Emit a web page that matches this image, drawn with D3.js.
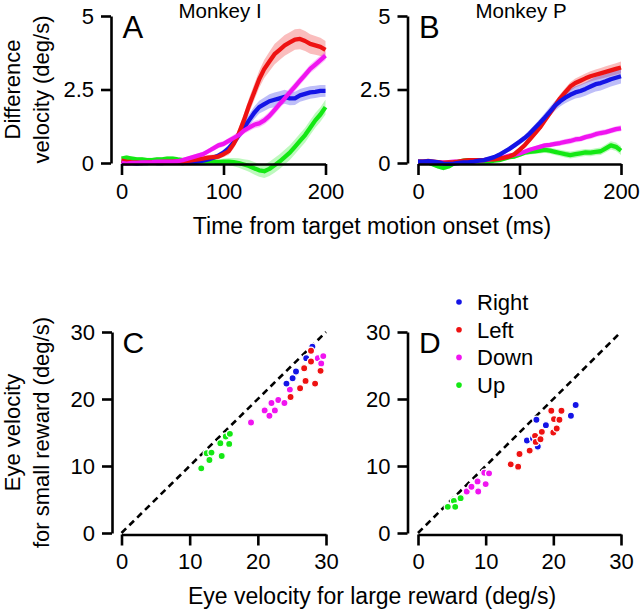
<!DOCTYPE html>
<html><head><meta charset="utf-8">
<script src="https://cdn.jsdelivr.net/npm/d3@7"></script>
<style>body{margin:0;background:#fff}svg{display:block}text{font-family:"Liberation Sans",Arial,Helvetica,sans-serif;fill:#000}</style>
</head><body>
<script>
// ---------- DATA ----------
const times = d3.range(0, 201, 5); // ms
const semTimes = [0,25,50,75,100,125,150,175,200];
const directions = ["Right","Left","Down","Up"];
const colors = {Right:"#1414e6", Left:"#ee1212", Down:"#f014f0", Up:"#14e814"};

// Panel A (Monkey I)
const aRight = [0.02,0.0,0.0,-0.02,0.0,0.0,0.02,0.0,0.0,0.02,0.03,0.02,0.0,0.02,0.03,0.05,0.08,0.12,0.18,0.25,0.35,0.5,0.7,0.95,1.2,1.45,1.7,1.9,2.0,2.1,2.15,2.2,2.25,2.2,2.2,2.3,2.35,2.4,2.42,2.45,2.45];
const aLeft  = [0.08,0.05,0.03,0.02,0.0,0.02,0.03,0.02,0.04,0.05,0.05,0.06,0.05,0.07,0.1,0.12,0.15,0.18,0.2,0.22,0.3,0.4,0.65,1.0,1.45,1.95,2.4,2.85,3.2,3.45,3.7,3.85,4.0,4.1,4.2,4.22,4.15,4.05,4.0,3.95,3.85];
const aDown  = [0.0,-0.02,0.0,0.0,0.02,0.02,0.03,0.05,0.05,0.05,0.05,0.06,0.1,0.15,0.2,0.25,0.3,0.4,0.5,0.6,0.65,0.75,0.85,0.95,1.1,1.2,1.3,1.35,1.45,1.6,1.8,2.0,2.2,2.4,2.6,2.8,3.0,3.2,3.35,3.5,3.65];
const aUp    = [0.15,0.18,0.15,0.12,0.12,0.1,0.1,0.12,0.12,0.15,0.15,0.12,0.1,0.08,0.05,0.05,0.05,0.05,0.05,0.03,0.05,0.05,0.03,0.0,-0.05,-0.1,-0.18,-0.25,-0.28,-0.2,-0.08,0.05,0.2,0.35,0.55,0.75,0.95,1.2,1.45,1.65,1.9];
const aRightSem = [0.06,0.06,0.06,0.06,0.1,0.2,0.25,0.22,0.2];
const aLeftSem  = [0.08,0.08,0.08,0.08,0.1,0.25,0.35,0.35,0.3];
const aDownSem  = [0.06,0.06,0.06,0.08,0.1,0.12,0.15,0.15,0.15];
const aUpSem    = [0.08,0.08,0.08,0.08,0.1,0.2,0.25,0.25,0.25];

// Panel B (Monkey P)
const bRight = [0.05,0.05,0.06,0.05,0.02,-0.02,-0.03,-0.02,0.0,0.02,0.03,0.05,0.08,0.1,0.15,0.2,0.28,0.38,0.48,0.6,0.72,0.85,1.0,1.18,1.36,1.55,1.75,1.95,2.1,2.22,2.32,2.4,2.45,2.52,2.6,2.68,2.72,2.78,2.85,2.9,2.95];
const bLeft  = [0.05,0.05,0.07,0.05,0.03,0.0,0.02,0.03,0.05,0.08,0.1,0.1,0.1,0.1,0.12,0.12,0.15,0.18,0.22,0.3,0.45,0.6,0.8,1.0,1.2,1.45,1.7,1.95,2.2,2.4,2.6,2.72,2.8,2.88,2.95,3.0,3.05,3.1,3.15,3.2,3.25];
const bDown  = [0.05,0.05,0.04,0.03,0.03,0.02,0.03,0.05,0.05,0.06,0.05,0.05,0.08,0.1,0.12,0.15,0.17,0.2,0.25,0.28,0.32,0.38,0.45,0.5,0.55,0.6,0.62,0.65,0.68,0.72,0.75,0.8,0.82,0.88,0.92,0.98,1.02,1.05,1.1,1.15,1.18];
const bUp    = [0.05,0.05,0.02,-0.05,-0.12,-0.17,-0.12,-0.02,0.05,0.08,0.1,0.08,0.05,0.05,0.05,0.08,0.1,0.15,0.2,0.22,0.28,0.35,0.38,0.4,0.42,0.45,0.42,0.38,0.34,0.3,0.27,0.3,0.33,0.36,0.35,0.38,0.4,0.5,0.6,0.55,0.42];
const bRightSem = [0.06,0.06,0.06,0.06,0.1,0.15,0.2,0.25,0.25];
const bLeftSem  = [0.06,0.06,0.06,0.06,0.08,0.12,0.15,0.18,0.2];
const bDownSem  = [0.05,0.05,0.05,0.05,0.06,0.08,0.1,0.1,0.1];
const bUpSem    = [0.06,0.08,0.06,0.06,0.08,0.1,0.12,0.12,0.15];

const timeTicks = [0,100,200];
const velTicks = [0,2.5,5];
const eyeTicks = [0,10,20,30];

// Panel C (Monkey I): [large reward, small reward]
const cUp = [[11.7,9.65],[12.5,11.9],[13.2,12.0],[12.9,10.9],[14.5,13.4],[14.7,11.5],[15.3,14.4],[15.9,14.8],[15.8,13.3]];
const cDown = [[19.0,16.5],[21.0,18.3],[21.7,17.5],[22.0,19.4],[22.5,18.3],[23.0,19.85],[23.9,19.4],[24.7,21.4],[28.8,26.1],[29.3,25.3],[29.6,26.4]];
const cLeft = [[24.8,20.3],[26.2,21.6],[27.0,22.7],[26.8,24.6],[27.8,25.6],[27.8,27.2],[28.4,22.3],[29.2,24.2]];
const cRight = [[24.2,22.3],[25.1,23.1],[25.6,24.1],[27.1,26.1],[28.0,27.8]];

// Panel D (Monkey P)
const dUp = [[4.4,3.9],[5.3,4.8],[5.5,3.9],[6.3,5.2]];
const dDown = [[7.2,6.2],[7.9,6.9],[8.8,7.7],[8.9,6.2],[9.8,9.0],[10.5,8.9],[10.0,7.3]];
const dLeft = [[13.7,10.25],[14.8,9.9],[15.0,11.8],[16.5,12.3],[17.3,14.5],[17.4,13.6],[18.3,15.1],[19.7,18.25],[21.2,18.25],[20.1,17.0],[20.0,15.0],[20.5,15.6],[20.9,16.9],[18.1,14.0]];
const dRight = [[17.5,16.9],[16.1,13.8],[17.7,12.9],[18.9,16.1],[22.6,17.5],[23.3,19.1],[17.0,14.1]];

// ---------- DRAW ----------
const W = 640, H = 610;
const svg = d3.select("body").append("svg").attr("width", W).attr("height", H);
svg.append("rect").attr("width", W).attr("height", H).attr("fill", "#fff");

const FS = 22;

function styleAxis(g){
  g.selectAll("path.domain").attr("stroke","#000").attr("stroke-width",2.6);
  g.selectAll(".tick line").attr("stroke","#000").attr("stroke-width",2.6);
  g.selectAll(".tick text").attr("font-size",FS).attr("font-family",'"Liberation Sans",Arial,sans-serif').attr("fill","#000");
}

function timePanel(cfg){
  const x = d3.scaleLinear().domain([0,200]).range([cfg.x0, cfg.x1]);
  const y = d3.scaleLinear().domain([0,5]).range([163, 16]);
  const g = svg.append("g");
  cfg.series.forEach(s => {
    const sem = d3.scaleLinear().domain(semTimes).range(s.sem);
    const pts = times.map((t,i) => ({t, v:s.values[i], e:sem(t)}));
    g.append("path").datum(pts)
      .attr("d", d3.area().x(d=>x(d.t)).y0(d=>y(d.v-d.e)).y1(d=>y(d.v+d.e)))
      .attr("fill", colors[s.dir]).attr("fill-opacity", 0.28).attr("stroke","none");
  });
  cfg.series.forEach(s => {
    const pts = times.map((t,i) => ({t, v:s.values[i]}));
    g.append("path").datum(pts)
      .attr("d", d3.line().x(d=>x(d.t)).y(d=>y(d.v)))
      .attr("fill","none").attr("stroke", colors[s.dir]).attr("stroke-width",4.3).attr("stroke-linejoin","round");
  });
  const gx = svg.append("g").attr("transform","translate(0,164)")
    .call(d3.axisBottom(x).tickValues(timeTicks).tickSize(11).tickSizeOuter(0).tickPadding(8));
  styleAxis(gx);
  const gy = svg.append("g").attr("transform",`translate(${cfg.yAxisX},0)`)
    .call(d3.axisLeft(y).tickValues(velTicks).tickFormat(d=>d).tickSize(10).tickSizeOuter(0).tickPadding(7));
  styleAxis(gy);
  svg.append("text").attr("x", cfg.x0+1).attr("y", 38).attr("font-size",31).text(cfg.letter);
  svg.append("text").attr("x", cfg.titleX).attr("y", 18).attr("font-size",20.5).attr("text-anchor","middle").text(cfg.title);
}

timePanel({x0:121.5, x1:325.5, yAxisX:111, letter:"A", title:"Monkey I", titleX:220,
  series:[{dir:"Up",values:aUp,sem:aUpSem},{dir:"Right",values:aRight,sem:aRightSem},{dir:"Left",values:aLeft,sem:aLeftSem},{dir:"Down",values:aDown,sem:aDownSem}]});
timePanel({x0:418, x1:621, yAxisX:407.5, letter:"B", title:"Monkey P", titleX:521,
  series:[{dir:"Up",values:bUp,sem:bUpSem},{dir:"Down",values:bDown,sem:bDownSem},{dir:"Left",values:bLeft,sem:bLeftSem},{dir:"Right",values:bRight,sem:bRightSem}]});

function scatterPanel(cfg){
  const x = d3.scaleLinear().domain([0,30]).range([cfg.x0, cfg.x1]);
  const y = d3.scaleLinear().domain([0,30]).range([533, 332]);
  svg.append("line").attr("x1",x(0)).attr("y1",y(0)).attr("x2",x(30)).attr("y2",y(30))
    .attr("stroke","#000").attr("stroke-width",2.6).attr("stroke-dasharray","6.5,4.5");
  cfg.groups.forEach(gr => {
    svg.append("g").selectAll("circle").data(gr.pts).join("circle")
      .attr("cx", d=>x(d[0])).attr("cy", d=>y(d[1])).attr("r", 3.6)
      .attr("fill", colors[gr.dir]).attr("stroke","#fff").attr("stroke-width",1.3);
  });
  const gx = svg.append("g").attr("transform","translate(0,534.5)")
    .call(d3.axisBottom(x).tickValues(eyeTicks).tickSize(11).tickSizeOuter(0).tickPadding(8));
  styleAxis(gx);
  const gy = svg.append("g").attr("transform",`translate(${cfg.yAxisX},0)`)
    .call(d3.axisLeft(y).tickValues(eyeTicks).tickSize(10).tickSizeOuter(0).tickPadding(7));
  styleAxis(gy);
  svg.append("text").attr("x", cfg.x0+1).attr("y", 353).attr("font-size",30).text(cfg.letter);
}

scatterPanel({x0:121.5, x1:326, yAxisX:112, letter:"C",
  groups:[{dir:"Up",pts:cUp},{dir:"Down",pts:cDown},{dir:"Right",pts:cRight},{dir:"Left",pts:cLeft}]});
scatterPanel({x0:418, x1:621, yAxisX:407.5, letter:"D",
  groups:[{dir:"Up",pts:dUp},{dir:"Down",pts:dDown},{dir:"Right",pts:dRight},{dir:"Left",pts:dLeft}]});

// Legend
const leg = svg.append("g");
directions.forEach((d,i) => {
  const yy = 302 + i*27.7;
  leg.append("circle").attr("cx",459).attr("cy",yy).attr("r",2.8).attr("fill",colors[d]);
  leg.append("text").attr("x",477).attr("y",yy).attr("dy","0.36em").attr("font-size",FS).text(d);
});

// Axis labels
svg.append("text").attr("x",372).attr("y",234).attr("font-size",23).attr("text-anchor","middle").text("Time from target motion onset (ms)");
svg.append("text").attr("x",372).attr("y",604).attr("font-size",23).attr("text-anchor","middle").text("Eye velocity for large reward (deg/s)");

function yLabel(cy, l1, l2){
  const g = svg.append("g").attr("transform",`translate(0,${cy}) rotate(-90)`);
  g.append("text").attr("x",0).attr("y",20).attr("font-size",22).attr("text-anchor","middle").text(l1);
  g.append("text").attr("x",0).attr("y",49).attr("font-size",22).attr("text-anchor","middle").text(l2);
}
yLabel(89.5, "Difference", "velocity (deg/s)");
yLabel(432.5, "Eye velocity", "for small reward (deg/s)");
</script>
</body></html>
